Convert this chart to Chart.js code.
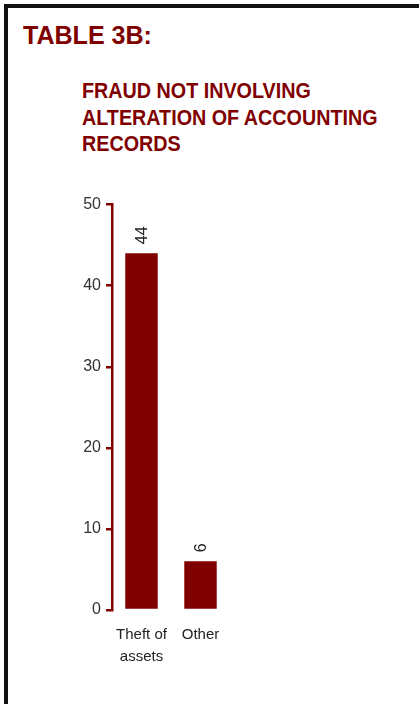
<!DOCTYPE html>
<html>
<head>
<meta charset="utf-8">
<script src="https://cdn.jsdelivr.net/npm/chart.js@4"></script>
<style>
  html, body { margin: 0; padding: 0; background: #fff; width: 419px; height: 704px; overflow: hidden; }
  .frame { position: absolute; left: 4px; top: 4px; width: 430px; height: 720px; border-left: 4px solid #111; border-top: 4px solid #111; }
  .tbl { position: absolute; left: 23px; top: 22px; font: bold 26.5px/26.5px "Liberation Sans", Arial, sans-serif; color: #800000; transform: scaleX(0.945); transform-origin: 0 0; white-space: nowrap; }
  .sub { position: absolute; left: 82px; top: 78px; font: bold 22.3px/26.5px "Liberation Sans", Arial, sans-serif; color: #800000; transform: scaleX(0.885); transform-origin: 0 0; white-space: nowrap; }
  #chart { position: absolute; left: 0; top: 190px; }
</style>
</head>
<body>
<div class="frame"></div>
<div class="tbl">TABLE 3B:</div>
<div class="sub">FRAUD NOT INVOLVING<br>ALTERATION OF ACCOUNTING<br>RECORDS</div>
<canvas id="chart" width="419" height="500"></canvas>
<script>
const RED = "#800000";

const categories = [["Theft of", "assets"], "Other"];
const values = [44, 6];
const yMax = 50;
const yStep = 10;

Chart.defaults.font.family = "'Liberation Sans', Arial, sans-serif";
Chart.defaults.animation = false;
Chart.defaults.plugins.legend.display = false;
Chart.defaults.plugins.tooltip.enabled = false;

// numbers above the bars, turned to read upwards
const barValueLabels = {
  id: "barValueLabels",
  afterDatasetsDraw(chart) {
    const ctx = chart.ctx;
    const meta = chart.getDatasetMeta(0);
    ctx.save();
    ctx.font = "16px 'Liberation Sans', Arial, sans-serif";
    ctx.fillStyle = "#222";
    ctx.textAlign = "left";
    ctx.textBaseline = "middle";
    meta.data.forEach((bar, i) => {
      ctx.save();
      ctx.translate(bar.x + 1, bar.y - 9);
      ctx.rotate(-Math.PI / 2);
      ctx.fillText(String(values[i]), 0, 0);
      ctx.restore();
    });
    ctx.restore();
  },
};

new Chart(document.getElementById("chart").getContext("2d"), {
  type: "bar",
  data: {
    labels: categories,
    datasets: [{ data: values, backgroundColor: RED, barPercentage: 0.55, categoryPercentage: 1 }],
  },
  options: {
    responsive: false,
    layout: { padding: { top: 13, right: 189, left: 1, bottom: 0 } },
    scales: {
      x: {
        grid: { display: false, drawTicks: false },
        border: { display: false },
        ticks: { color: "#222", font: { size: 15, lineHeight: "22px" }, padding: 14, maxRotation: 0, autoSkip: false },
        afterFit: (s) => { s.height = 80; },
      },
      y: {
        min: 0,
        max: yMax,
        ticks: { stepSize: yStep, color: "#333", font: { size: 16 }, padding: 5 },
        grid: { drawOnChartArea: false, color: RED, lineWidth: 2.5, tickLength: 6 },
        border: { color: RED, width: 2.5 },
        afterFit: (s) => { s.width = 111; },
      },
    },
  },
  plugins: [barValueLabels],
});
</script>
</body>
</html>
